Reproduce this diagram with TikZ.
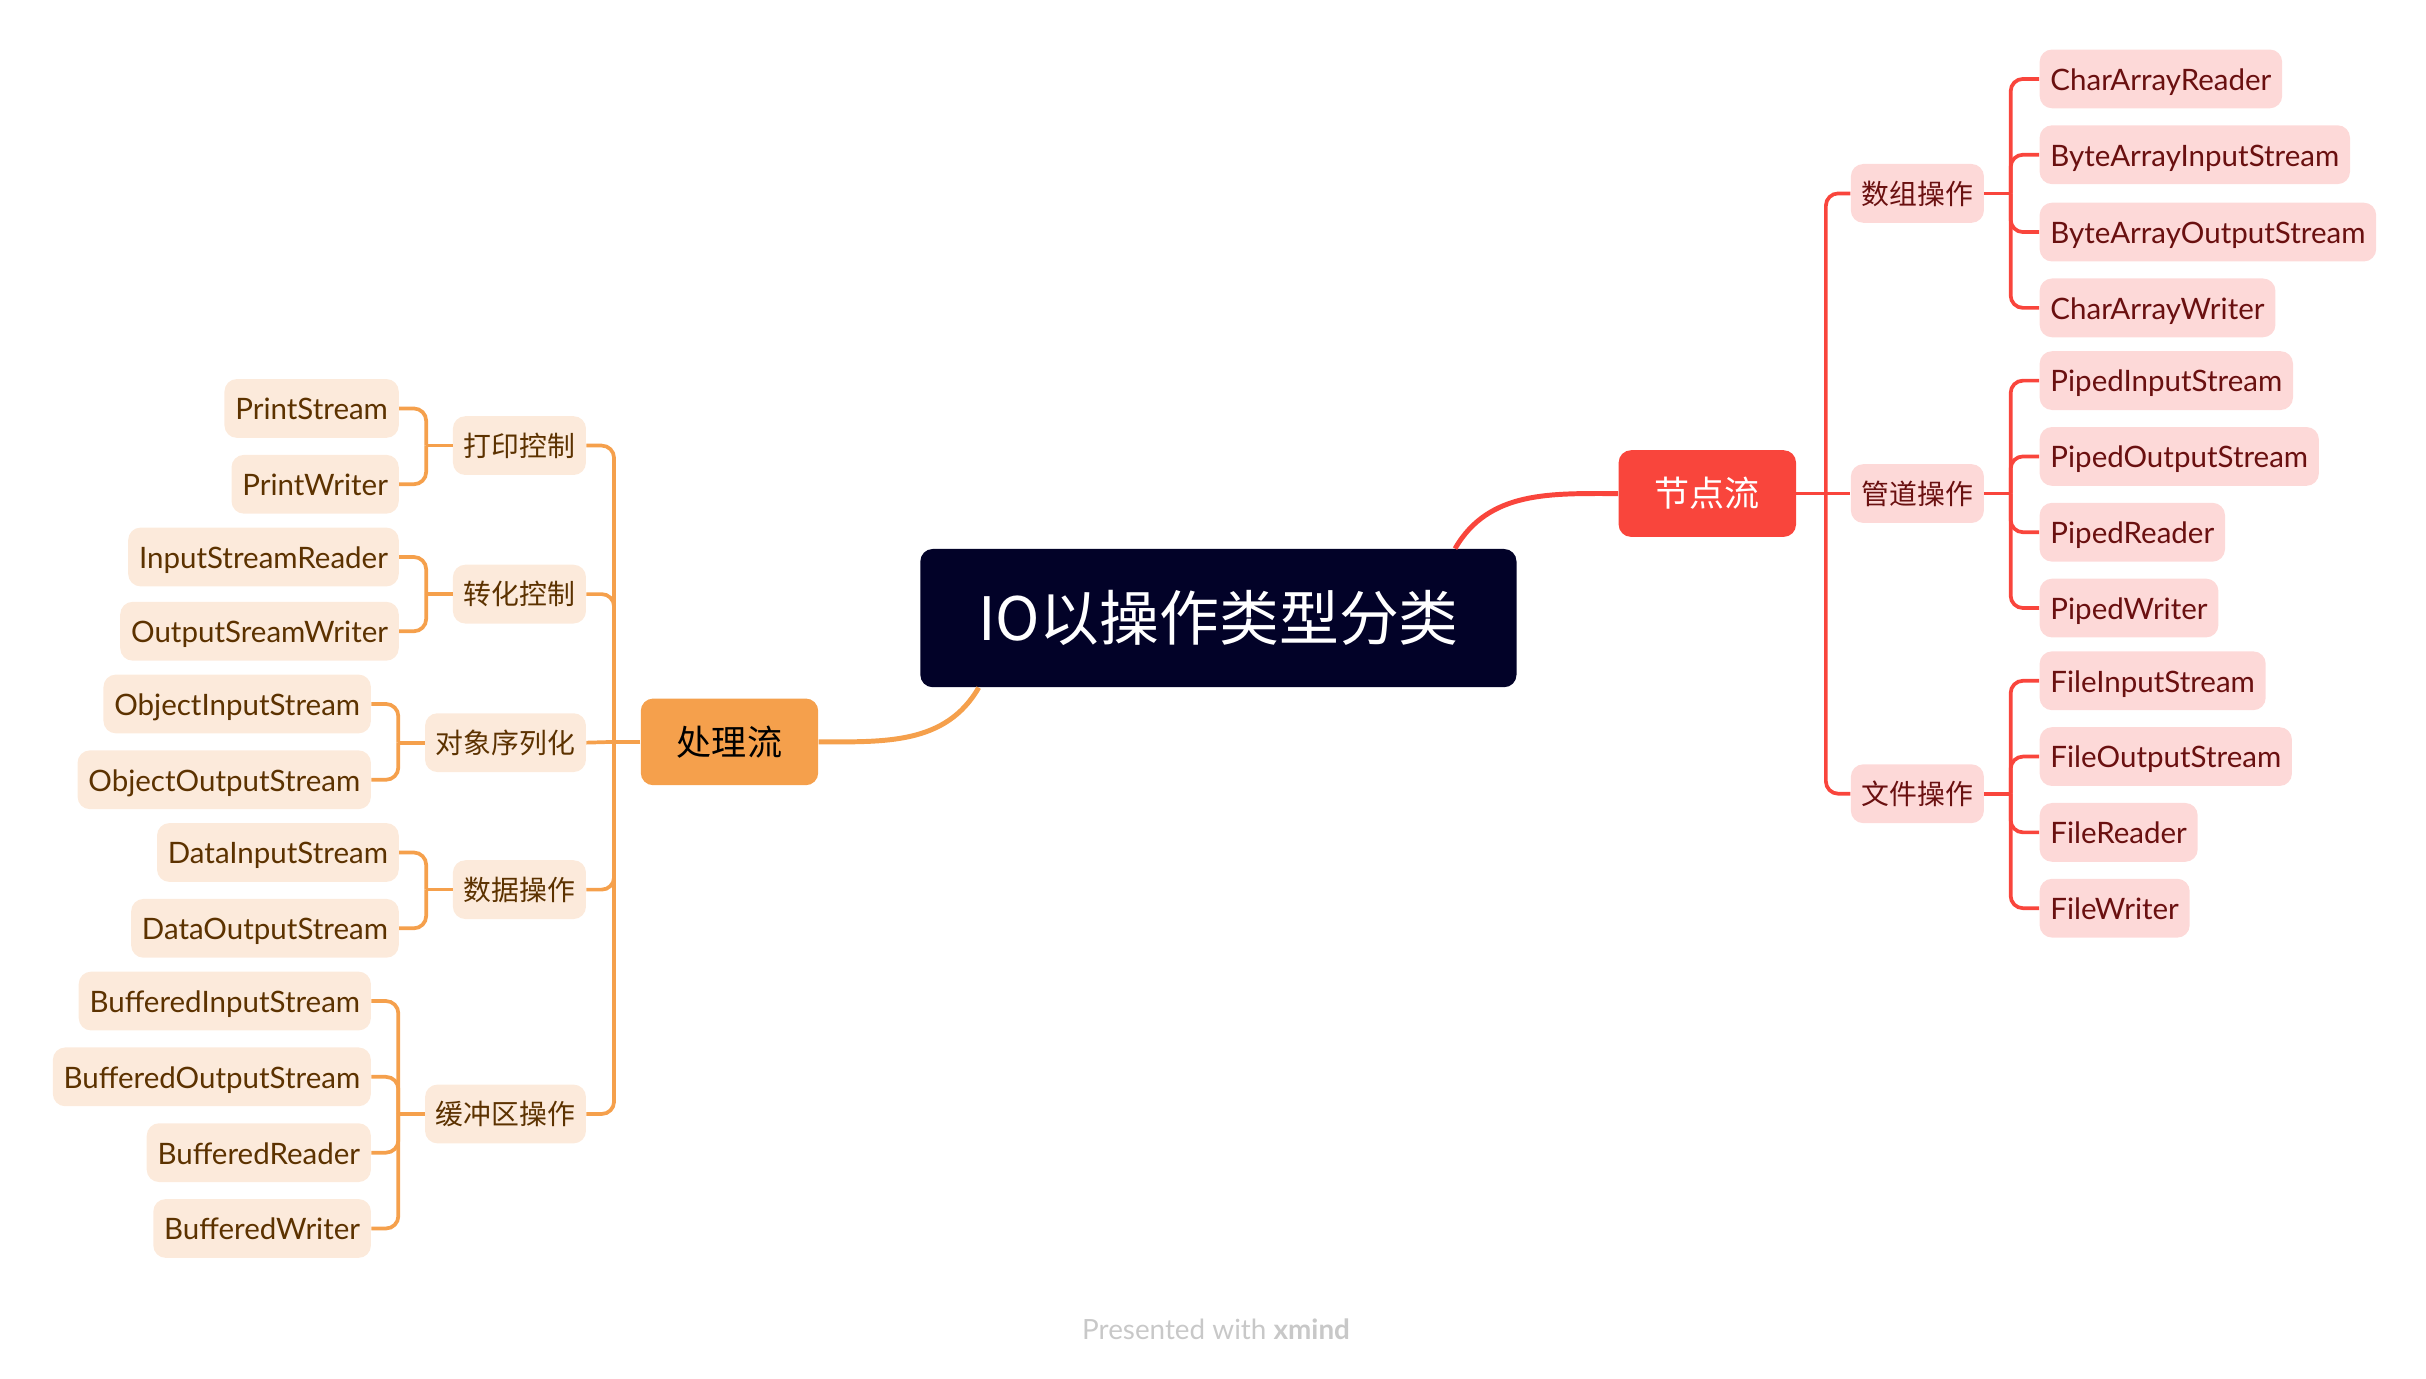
\documentclass[tikz,border=0pt]{standalone}
\usepackage{fontspec}
\setmainfont{Lato}
\newfontfamily\cjk{Noto Sans CJK SC}
\usetikzlibrary{positioning}
\definecolor{color1}{HTML}{020228}
\definecolor{color2}{HTML}{F9453C}
\definecolor{color3}{HTML}{F5A04C}
\definecolor{color4}{HTML}{FDD9D8}
\definecolor{color5}{HTML}{6A1010}
\definecolor{color6}{HTML}{FCEADB}
\definecolor{color7}{HTML}{5C3200}
\definecolor{color8}{HTML}{C8C8C8}

\begin{document}
\begin{tikzpicture}[
    x=0.75pt, y=-0.75pt,
    font=\fontsize{14.3}{16}\selectfont,
    % 样式定义
    rootbox/.style={rectangle, rounded corners=6pt, fill=color1, text=white, minimum width=289pt, minimum height=67pt, font=\cjk\fontsize{29}{32}\selectfont},
    branchR/.style={rectangle, rounded corners=6pt, fill=color2, text=white, minimum width=86pt, minimum height=42pt, font=\cjk\fontsize{17}{20}\selectfont},
    branchL/.style={rectangle, rounded corners=6pt, fill=color3, text=black, minimum width=86pt, minimum height=42pt, font=\cjk\fontsize{17}{20}\selectfont},
    groupR/.style={rectangle, rounded corners=6pt, fill=color4, text=color5, minimum height=28.5pt, inner xsep=5.25pt, text height=12pt, text depth=1.5pt, anchor=west, font=\cjk\fontsize{13.5}{16}\selectfont},
    groupL/.style={rectangle, rounded corners=6pt, fill=color6, text=color7, minimum height=28.5pt, inner xsep=5.25pt, text height=12pt, text depth=1.5pt, anchor=east, font=\cjk\fontsize{13.5}{16}\selectfont},
    itemR/.style={rectangle, rounded corners=6pt, fill=color4, text=color5, minimum height=28.5pt, inner xsep=5.25pt, text height=13pt, text depth=2pt, anchor=west},
    itemL/.style={rectangle, rounded corners=6pt, fill=color6, text=color7, minimum height=28.5pt, inner xsep=5.25pt, text height=13pt, text depth=2pt, anchor=east},
    lineR/.style={draw=color2, line width=1.8pt, rounded corners=6pt},
    lineL/.style={draw=color3, line width=1.8pt, rounded corners=6pt}
]
    \useasboundingbox (0,0) rectangle (1568,891);

    % --- 中心主题 ---
    \node (root) [rootbox] at (787.5,399.5) {IO以操作类型分类};
    \node (jd) [branchR] at (1103.5,319) {节点流};
    \node (cl) [branchL] at (471.5,479.5) {处理流};

    \draw [color2, line width=2.4pt] ([xshift=-30pt]root.north east) to[out=60, in=180] (jd.west);
    \draw [color3, line width=2.4pt] ([xshift=28.5pt]root.south west) to[out=-120, in=0] (cl.east);

    % --- 右侧：节点流 ---
    \node (g1) [groupR] at (1196,125) {数组操作};
    \node (g2) [groupR] at (1196,319) {管道操作};
    \node (g3) [groupR] at (1196,513) {文件操作};

    \node (a1) [itemR] at (1318,51) {CharArrayReader};
    \node (a2) [itemR] at (1318,100) {ByteArrayInputStream};
    \node (a3) [itemR] at (1318,150) {ByteArrayOutputStream};
    \node (a4) [itemR] at (1318,199) {CharArrayWriter};

    \node (p1) [itemR] at (1318,246) {PipedInputStream};
    \node (p2) [itemR] at (1318,295) {PipedOutputStream};
    \node (p3) [itemR] at (1318,344) {PipedReader};
    \node (p4) [itemR] at (1318,393) {PipedWriter};

    \node (f1) [itemR] at (1318,440) {FileInputStream};
    \node (f2) [itemR] at (1318,489) {FileOutputStream};
    \node (f3) [itemR] at (1318,538) {FileReader};
    \node (f4) [itemR] at (1318,587) {FileWriter};

    % --- 左侧：处理流 ---
    \node (h1) [groupL] at (379,288) {打印控制};
    \node (h2) [groupL] at (379,384) {转化控制};
    \node (h3) [groupL] at (379,480) {对象序列化};
    \node (h4) [groupL] at (379,575) {数据操作};
    \node (h5) [groupL] at (379,720) {缓冲区操作};

    \node (d1) [itemL] at (258,264) {PrintStream};
    \node (d2) [itemL] at (258,313) {PrintWriter};
    \node (t1) [itemL] at (258,360) {InputStreamReader};
    \node (t2) [itemL] at (258,408) {OutputSreamWriter};
    \node (o1) [itemL] at (240,455) {ObjectInputStream};
    \node (o2) [itemL] at (240,504) {ObjectOutputStream};
    \node (s1) [itemL] at (258,551) {DataInputStream};
    \node (s2) [itemL] at (258,600) {DataOutputStream};
    \node (b1) [itemL] at (240,647) {BufferedInputStream};
    \node (b2) [itemL] at (240,696) {BufferedOutputStream};
    \node (b3) [itemL] at (240,745) {BufferedReader};
    \node (b4) [itemL] at (240,794) {BufferedWriter};

    % --- 连线 ---
    \coordinate (jr) at ([xshift=14.25pt]jd.east);
    \draw [lineR] (jd.east) -- (jr);
    \draw [lineR] (jr) |- (g1.west);
    \draw [lineR] (jr) -- (g2.west);
    \draw [lineR] (jr) |- (g3.west);

    \coordinate (ja) at ([xshift=12.75pt]g1.east);
    \coordinate (jp) at ([xshift=12.75pt]g2.east);
    \coordinate (jf) at ([xshift=12.75pt]g3.east);
    \draw [lineR] (g1.east) -- (ja);
    \draw [lineR] (g2.east) -- (jp);
    \draw [lineR] (g3.east) -- (jf);
    \draw [lineR] (ja) |- (a1.west);
    \draw [lineR] (ja) |- (a2.west);
    \draw [lineR] (ja) |- (a3.west);
    \draw [lineR] (ja) |- (a4.west);
    \draw [lineR] (jp) |- (p1.west);
    \draw [lineR] (jp) |- (p2.west);
    \draw [lineR] (jp) |- (p3.west);
    \draw [lineR] (jp) |- (p4.west);
    \draw [lineR] (jf) |- (f1.west);
    \draw [lineR] (jf) |- (f2.west);
    \draw [lineR] (jf) |- (f3.west);
    \draw [lineR] (jf) |- (f4.west);

    \coordinate (jl) at ([xshift=-12.75pt]cl.west);
    \draw [lineL] (cl.west) -- (jl);
    \draw [lineL] (jl) |- (h1.east);
    \draw [lineL] (jl) |- (h2.east);
    \draw [lineL] (jl) -- (h3.east);
    \draw [lineL] (jl) |- (h4.east);
    \draw [lineL] (jl) |- (h5.east);

    \coordinate (jd1) at ([xshift=-12.75pt]h1.west);
    \coordinate (jt1) at ([xshift=-12.75pt]h2.west);
    \coordinate (jo1) at ([xshift=-12.75pt]h3.west);
    \coordinate (js1) at ([xshift=-12.75pt]h4.west);
    \coordinate (jb1) at ([xshift=-12.75pt]h5.west);
    \draw [lineL] (h1.west) -- (jd1);
    \draw [lineL] (h2.west) -- (jt1);
    \draw [lineL] (h3.west) -- (jo1);
    \draw [lineL] (h4.west) -- (js1);
    \draw [lineL] (h5.west) -- (jb1);
    \draw [lineL] (jd1) |- (d1.east);
    \draw [lineL] (jd1) |- (d2.east);
    \draw [lineL] (jt1) |- (t1.east);
    \draw [lineL] (jt1) |- (t2.east);
    \draw [lineL] (jo1) |- (o1.east);
    \draw [lineL] (jo1) |- (o2.east);
    \draw [lineL] (js1) |- (s1.east);
    \draw [lineL] (js1) |- (s2.east);
    \draw [lineL] (jb1) |- (b1.east);
    \draw [lineL] (jb1) |- (b2.east);
    \draw [lineL] (jb1) |- (b3.east);
    \draw [lineL] (jb1) |- (b4.east);

    % 页脚
    \node (foot) [text=color8, font=\fontsize{13.5}{16}\selectfont] at (786,859) {Presented with \textbf{xmind}};

\end{tikzpicture}
\end{document}
